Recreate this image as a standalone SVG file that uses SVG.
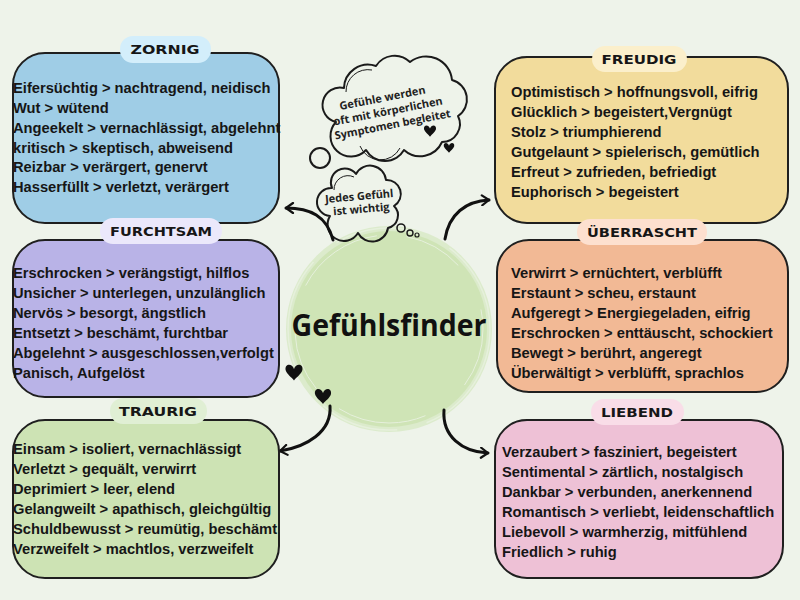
<svg xmlns="http://www.w3.org/2000/svg" xmlns:xlink="http://www.w3.org/1999/xlink" width="800" height="600" viewBox="0 0 800 600">
<style>
.box{stroke:#1f1f1f;stroke-width:2}
.t{font-family:"Liberation Sans",Arial,sans-serif;font-weight:bold;font-size:14.7px;fill:#161616}
.lbl{font-family:"DejaVu Sans",sans-serif;font-weight:bold;font-size:12px;fill:#161616;text-anchor:middle}
.cl{fill:none;stroke:#1a1a1a;stroke-width:2;stroke-linejoin:round}
.ct{font-family:"Open Sans","DejaVu Sans",sans-serif;font-weight:bold;font-size:11px;fill:#222;text-anchor:middle}
.arr{fill:none;stroke:#111;stroke-width:3;stroke-linecap:round;marker-end:url(#ah)}
</style>
<defs>
<marker id="ah" viewBox="0 0 12 12" refX="10" refY="6" markerWidth="4" markerHeight="4" orient="auto" markerUnits="strokeWidth">
<path d="M3,1 L10,6 L3,11" fill="none" stroke="#111" stroke-width="2.2" stroke-linecap="round" stroke-linejoin="round"/>
</marker>
<path id="heart" d="M0,-2 C-2,-8 -9,-7 -8,-1 C-7,3 -2,6 0,9 C2,6 7,3 8,-1 C9,-7 2,-8 0,-2 Z" fill="#111"/>
</defs>
<rect width="800" height="600" fill="#eef3ea"/>

<!-- centre -->
<g id="center">
<circle cx="389" cy="329" r="103" fill="#d7e8c4" opacity="0.8"/>
<circle cx="389" cy="329" r="98" fill="#cfe4b6"/>
<circle cx="389" cy="329" r="101" fill="none" stroke="#e6f0dc" stroke-width="1.5" stroke-dasharray="120 30 80 40"/>
<circle cx="389" cy="329" r="94" fill="none" stroke="#e6f0dc" stroke-width="1" stroke-dasharray="60 50 90 30"/>
<text x="389" y="336" font-family="'Open Sans','DejaVu Sans',sans-serif" font-weight="bold" font-size="30" text-anchor="middle" textLength="195" lengthAdjust="spacingAndGlyphs" fill="#111">Gefühlsfinder</text>
<use xlink:href="#heart" transform="translate(294,371) scale(1.05)"/>
<use xlink:href="#heart" transform="translate(323,395) scale(1.0)"/>
</g>

<!-- thought clouds -->
<g id="cloud-big">
<path class="cl" d="M336,122 A16,16 0 0 1 344,88 A24,24 0 0 1 376,66 A22,22 0 0 1 410,62 A26,26 0 0 1 452,80 A20,20 0 0 1 458,116 A18,18 0 0 1 442,142 A24,24 0 0 1 404,150 A22,22 0 0 1 366,150 A20,20 0 0 1 336,122 Z"/>
<path d="M346,92 A22,22 0 0 1 372,70" fill="none" stroke="#1a1a1a" stroke-width="1"/>
<path d="M360,146 A22,22 0 0 0 400,148" fill="none" stroke="#1a1a1a" stroke-width="1"/>
<circle class="cl" cx="320" cy="158" r="10"/>
<g transform="rotate(-11 388 111)">
<text class="ct" x="385" y="101">Gefühle werden</text>
<text class="ct" x="388" y="115">oft mit körperlichen</text>
<text class="ct" x="390" y="129">Symptomen begleitet</text>
</g>
<use xlink:href="#heart" transform="translate(430,130) scale(0.75)"/>
<use xlink:href="#heart" transform="translate(449,147) scale(0.65)"/>
</g>
<g id="cloud-small">
<path class="cl" d="M330,216 A12,12 0 0 1 332,188 A14,14 0 0 1 356,174 A16,16 0 0 1 386,180 A14,14 0 0 1 394,206 A13,13 0 0 1 388,228 A16,16 0 0 1 358,233 A16,16 0 0 1 330,216 Z"/>
<path d="M334,190 A14,14 0 0 1 354,177" fill="none" stroke="#1a1a1a" stroke-width="1"/>
<g transform="rotate(-5 360 205)">
<text class="ct" x="360" y="200">Jedes Gefühl</text>
<text class="ct" x="361" y="213">ist wichtig</text>
</g>
<circle cx="401" cy="228" r="4" fill="none" stroke="#1a1a1a" stroke-width="1.6"/>
<circle cx="410" cy="233" r="3" fill="none" stroke="#1a1a1a" stroke-width="1.4"/>
<circle cx="417" cy="235" r="2" fill="none" stroke="#1a1a1a" stroke-width="1.2"/>
</g>

<!-- connectors -->
<g id="connectors">
<path class="arr" d="M333,240 C327,216 310,208 286,208"/>
<path class="arr" d="M445,239 C449,214 466,201 489,200"/>
<path class="arr" d="M330,406 C332,432 306,447 280,451"/>
<path class="arr" d="M444,410 C442,436 462,452 488,453"/>
</g>

<!-- ZORNIG -->
<g id="zornig">
<rect class="box" x="13" y="53" width="266" height="170" rx="32" fill="#9fcde6"/>
<rect x="120" y="36" width="91" height="27" rx="13" fill="#d3eefb"/>
<text class="lbl" x="165" y="54" textLength="69" lengthAdjust="spacingAndGlyphs">ZORNIG</text>
<text class="t" x="13" y="93">Eifersüchtig &gt; nachtragend, neidisch</text>
<text class="t" x="13" y="113">Wut &gt; wütend</text>
<text class="t" x="13" y="133">Angeekelt &gt; vernachlässigt, abgelehnt</text>
<text class="t" x="13" y="153">kritisch &gt; skeptisch, abweisend</text>
<text class="t" x="13" y="172">Reizbar &gt; verärgert, genervt</text>
<text class="t" x="13" y="192">Hasserfüllt &gt; verletzt, verärgert</text>
</g>

<!-- FURCHTSAM -->
<g id="furchtsam">
<rect class="box" x="13" y="240" width="266" height="157" rx="32" fill="#b9b3e7"/>
<rect x="100" y="218" width="122" height="26" rx="13" fill="#ebe8fb"/>
<text class="lbl" x="161" y="236" textLength="102" lengthAdjust="spacingAndGlyphs">FURCHTSAM</text>
<text class="t" x="13" y="278">Erschrocken &gt; verängstigt, hilflos</text>
<text class="t" x="13" y="298">Unsicher &gt; unterlegen, unzulänglich</text>
<text class="t" x="13" y="318">Nervös &gt; besorgt, ängstlich</text>
<text class="t" x="13" y="338">Entsetzt &gt; beschämt, furchtbar</text>
<text class="t" x="13" y="358">Abgelehnt &gt; ausgeschlossen,verfolgt</text>
<text class="t" x="13" y="378">Panisch, Aufgelöst</text>
</g>

<!-- TRAURIG -->
<g id="traurig">
<rect class="box" x="13" y="420" width="266" height="158" rx="32" fill="#cde3b4"/>
<rect x="110" y="398" width="97" height="26" rx="13" fill="#e0efd4"/>
<text class="lbl" x="158" y="416" textLength="78" lengthAdjust="spacingAndGlyphs">TRAURIG</text>
<text class="t" x="13" y="454">Einsam &gt; isoliert, vernachlässigt</text>
<text class="t" x="13" y="474">Verletzt &gt; gequält, verwirrt</text>
<text class="t" x="13" y="494">Deprimiert &gt; leer, elend</text>
<text class="t" x="13" y="514">Gelangweilt &gt; apathisch, gleichgültig</text>
<text class="t" x="13" y="534">Schuldbewusst &gt; reumütig, beschämt</text>
<text class="t" x="13" y="554">Verzweifelt &gt; machtlos, verzweifelt</text>
</g>

<!-- FREUDIG -->
<g id="freudig">
<rect class="box" x="495" y="57" width="293" height="166" rx="32" fill="#f2dc9c"/>
<rect x="592" y="46" width="95" height="26" rx="13" fill="#fbefcb"/>
<text class="lbl" x="639" y="64" textLength="75" lengthAdjust="spacingAndGlyphs">FREUDIG</text>
<text class="t" x="511" y="97">Optimistisch &gt; hoffnungsvoll, eifrig</text>
<text class="t" x="511" y="117">Glücklich &gt; begeistert,Vergnügt</text>
<text class="t" x="511" y="137">Stolz &gt; triumphierend</text>
<text class="t" x="511" y="157">Gutgelaunt &gt; spielerisch, gemütlich</text>
<text class="t" x="511" y="177">Erfreut &gt; zufrieden, befriedigt</text>
<text class="t" x="511" y="197">Euphorisch &gt; begeistert</text>
</g>

<!-- ÜBERRASCHT -->
<g id="ueberrascht">
<rect class="box" x="497" y="240" width="291" height="152" rx="32" fill="#f2b995"/>
<rect x="577" y="219" width="130" height="26" rx="13" fill="#fde0cf"/>
<text class="lbl" x="642" y="237" textLength="110" lengthAdjust="spacingAndGlyphs">ÜBERRASCHT</text>
<text class="t" x="511" y="278">Verwirrt &gt; ernüchtert, verblüfft</text>
<text class="t" x="511" y="298">Erstaunt &gt; scheu, erstaunt</text>
<text class="t" x="511" y="318">Aufgeregt &gt; Energiegeladen, eifrig</text>
<text class="t" x="511" y="338">Erschrocken &gt; enttäuscht, schockiert</text>
<text class="t" x="511" y="358">Bewegt &gt; berührt, angeregt</text>
<text class="t" x="511" y="378">Überwältigt &gt; verblüfft, sprachlos</text>
</g>

<!-- LIEBEND -->
<g id="liebend">
<rect class="box" x="495" y="420" width="288" height="158" rx="32" fill="#eec1d6"/>
<rect x="591" y="399" width="93" height="26" rx="13" fill="#f9dde8"/>
<text class="lbl" x="637" y="417" textLength="72" lengthAdjust="spacingAndGlyphs">LIEBEND</text>
<text class="t" x="502" y="457">Verzaubert &gt; fasziniert, begeistert</text>
<text class="t" x="502" y="477">Sentimental &gt; zärtlich, nostalgisch</text>
<text class="t" x="502" y="497">Dankbar &gt; verbunden, anerkennend</text>
<text class="t" x="502" y="517">Romantisch &gt; verliebt, leidenschaftlich</text>
<text class="t" x="502" y="537">Liebevoll &gt; warmherzig, mitfühlend</text>
<text class="t" x="502" y="557">Friedlich &gt; ruhig</text>
</g>
</svg>
